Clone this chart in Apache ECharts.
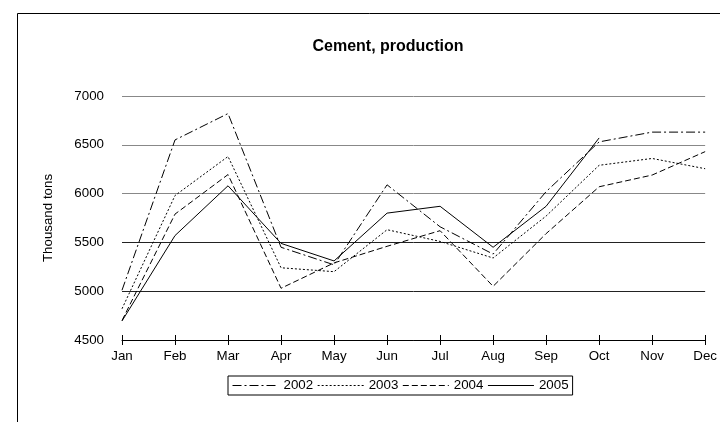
<!DOCTYPE html>
<html>
<head>
<meta charset="utf-8">
<script src="https://cdn.jsdelivr.net/npm/echarts@6/dist/echarts.min.js"></script>
<style>html,body{margin:0;padding:0;background:#fff}#c{width:720px;height:422px}</style>
</head>
<body>
<div id="c"></div>
<script>
const categories = ['Jan','Feb','Mar','Apr','May','Jun','Jul','Aug','Sep','Oct','Nov','Dec'];
const s2002 = [5010, 6550, 6820, 5450, 5270, 6090, 5660, 5380, 6020, 6530, 6630, 6630];
const s2003 = [4820, 5980, 6380, 5240, 5200, 5630, 5510, 5340, 5770, 6290, 6360, 6255];
const s2004 = [4700, 5790, 6195, 5030, 5290, 5460, 5620, 5050, 5590, 6070, 6190, 6430];
const s2005 = [4695, 5570, 6080, 5490, 5310, 5800, 5870, 5450, 5870, 6570, null, null];
const seriesNames = ['2002','2003','2004','2005'];
const yTicks = {min: 4500, max: 7000, interval: 500};

const font = 'Liberation Sans, Arial, sans-serif';
const chart = echarts.init(document.getElementById('c'));
const dashes = [[9,3,2,3],[2,2],[6,3],'solid'];
const data = [s2002, s2003, s2004, s2005];
chart.setOption({
  animation: false,
  backgroundColor: '#fff',
  title: {
    text: 'Cement, production',
    left: 383, top: 34, textAlign: 'center',
    textStyle: {fontFamily: font, fontSize: 16, fontWeight: 'bold', color: '#000'}
  },
  graphic: [{
    type: 'rect', shape: {x: 17.5, y: 13.5, width: 800, height: 600},
    style: {fill: 'none', stroke: '#000', lineWidth: 1}, silent: true
  }],
  legend: {
    data: seriesNames,
    bottom: 27,
    left: 228,
    itemWidth: 46, itemHeight: 10, itemGap: 4,
    padding: [3, 4],
    borderColor: '#000', borderWidth: 1,
    itemStyle: {opacity: 0},
    lineStyle: {width: 1},
    textStyle: {fontFamily: font, fontSize: 13.33, color: '#000'}
  },
  grid: {left: 122, right: 13, top: 96, bottom: 82},
  xAxis: [{
    type: 'category', data: categories, boundaryGap: false,
    axisLine: {lineStyle: {color: '#000', width: 1}},
    axisTick: {length: 5, lineStyle: {color: '#000'}},
    axisLabel: {fontFamily: font, fontSize: 13.33, color: '#000', margin: 10}
  }, {
    type: 'category', data: categories, boundaryGap: false, position: 'bottom',
    axisLine: {show: false},
    axisTick: {inside: true, length: 5, lineStyle: {color: '#000'}},
    axisLabel: {show: false}
  }],
  yAxis: {
    type: 'value', min: yTicks.min, max: yTicks.max, interval: yTicks.interval,
    name: 'Thousand tons', nameLocation: 'middle', nameGap: 67, nameRotate: 90,
    nameTextStyle: {fontFamily: font, fontSize: 13.33, color: '#000'},
    axisLine: {show: false}, axisTick: {show: false},
    axisLabel: {fontFamily: font, fontSize: 13.33, color: '#000', margin: 18,
      formatter: v => String(v)},
    splitLine: {lineStyle: {color: ['#222','#222','#222','#888','#888','#888'], width: 1}}
  },
  series: seriesNames.map((n, i) => ({
    name: n, type: 'line', data: data[i], symbol: 'none', connectNulls: false,
    lineStyle: {color: '#000', width: 1, type: dashes[i]},
    itemStyle: {color: '#000'}
  }))
});
</script>
</body>
</html>
